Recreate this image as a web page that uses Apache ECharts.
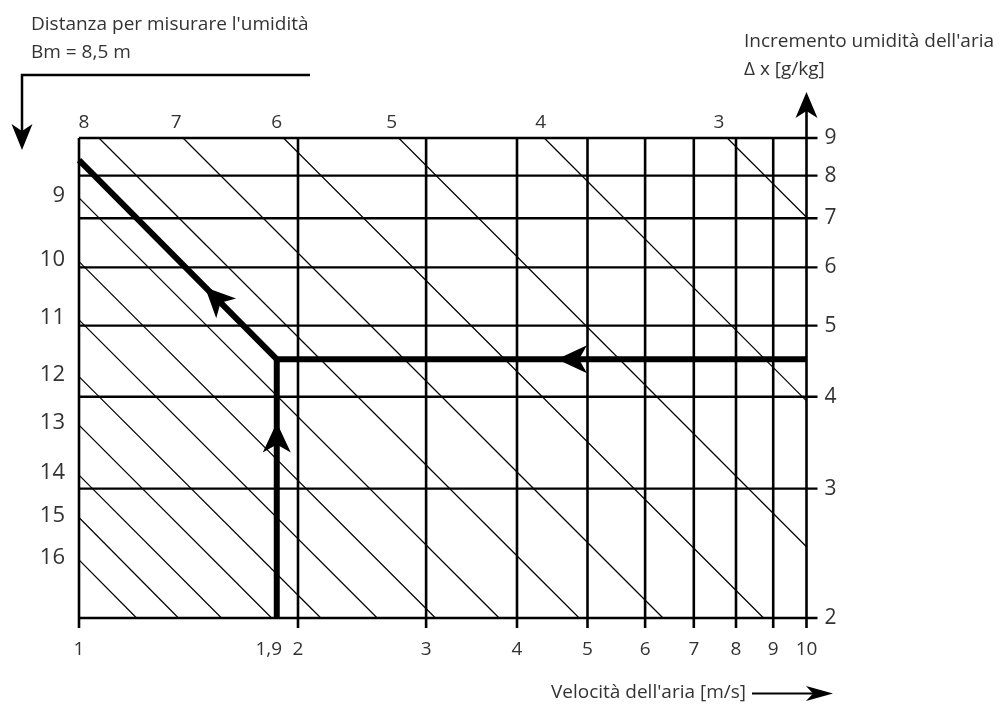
<!DOCTYPE html>
<html>
<head>
<meta charset="utf-8">
<title>Nomogramma umidità</title>
<script src="https://cdn.jsdelivr.net/npm/echarts@6/dist/echarts.min.js"></script>
<style>
  html, body { margin: 0; padding: 0; background: #fff; }
  #chart { width: 1007px; height: 715px; }
</style>
</head>
<body>
<div id="chart"></div>
<script>
// scale log-log: velocità (x) e incremento umidità (y)
const velocityTicks = [1, 2, 3, 4, 5, 6, 7, 8, 9, 10];
const humidityTicks = [2, 3, 4, 5, 6, 7, 8, 9];

// linee Bm (distanza), inizio e fine di ogni diagonale [v, Δx]
const bmValues = [3, 4, 5, 6, 7, 8, 9, 10, 11, 12, 13, 14, 15, 16];
const bmStart = [[7.78, 9], [4.36, 9], [2.75, 9], [1.91, 9], [1.39, 9], [1.065, 9],
  [1, 7.46], [1, 6.11], [1, 5.09], [1, 4.26], [1, 3.66], [1, 3.13], [1, 2.74], [1, 2.40]];
const bmEnd = [[10, 7.02], [10, 3.95], [10, 2.50], [8.73, 2], [6.35, 2], [4.87, 2],
  [3.78, 2], [3.09, 2], [2.57, 2], [2.15, 2], [1.84, 2], [1.57, 2], [1.37, 2], [1.20, 2]];
// dove stanno le etichette Bm del bordo superiore (scala velocità), per Bm 3..8
const bmTopAt = [7.58, 4.31, 2.69, 1.87, 1.36, 1.016];

// esempio: v = 1,9 m/s, Δx = 4,5 g/kg -> Bm = 8,5 m
const exampleVelocity = 1.87;
const exampleVelocityLabel = '1,9';
const exampleHumidity = 4.5;
const exampleBmEnd = [1, 8.40];
// punte delle frecce [v, Δx] e punto da cui arriva il tratto
const arrowTips = [[4.54, 4.5], [1.87, 3.69], [1.49, 5.64]];
const arrowFrom = [[10, 4.5], [1.87, 2], [1.87, 4.5]];

const FONT = '"Open Sans", "Noto Sans", sans-serif';
const TXT = '#333';
const font = size => size + 'px ' + FONT;

function textEl(text, x, y, size, align) {
  return {
    type: 'text',
    style: {
      text: text, x: x, y: y, font: font(size), fill: TXT,
      align: align, textAlign: align,
      verticalAlign: 'middle', textVerticalAlign: 'middle'
    }
  };
}

let myChart = echarts.init(document.getElementById('chart'));

let option = {
  animation: false,
  grid: { left: 79, right: 200.5, top: 138, bottom: 97, outerBoundsMode: 'none' },
  xAxis: { type: 'log', logBase: 10, min: 1, max: 10, show: false },
  yAxis: { type: 'log', logBase: 10, min: 2, max: 9, show: false },
  graphic: [
    { type: 'text', x: 31, y: 25, style: { text: "Distanza per misurare l'umidità", font: font(19), fill: TXT, verticalAlign: 'middle', textVerticalAlign: 'middle' } },
    { type: 'text', x: 31, y: 53, style: { text: 'Bm = 8,5 m', font: font(19), fill: TXT, verticalAlign: 'middle', textVerticalAlign: 'middle' } },
    { type: 'polyline', shape: { points: [[310, 75], [22, 75], [22, 132]] }, style: { stroke: '#000', lineWidth: 2.5, fill: null } },
    { type: 'polygon', shape: { points: [[22, 150], [11.5, 124], [22, 131], [32.5, 124]] }, style: { fill: '#000' } },
    { type: 'text', x: 744, y: 42, style: { text: "Incremento umidità dell'aria", font: font(19), fill: TXT, verticalAlign: 'middle', textVerticalAlign: 'middle' } },
    { type: 'text', x: 744, y: 70, style: { text: 'Δ x [g/kg]', font: font(19), fill: TXT, verticalAlign: 'middle', textVerticalAlign: 'middle' } },
    { type: 'text', x: 746, y: 693, style: { text: "Velocità dell'aria [m/s]", font: font(19), fill: TXT, align: 'right', textAlign: 'right', verticalAlign: 'middle', textVerticalAlign: 'middle' } },
    { type: 'line', shape: { x1: 752, y1: 693.5, x2: 814, y2: 693.5 }, style: { stroke: '#000', lineWidth: 2 } },
    { type: 'polygon', shape: { points: [[833, 693.5], [806, 686], [813, 693.5], [806, 701]] }, style: { fill: '#000' } }
  ],
  series: [
    // linee verticali della velocità, con tacca ed etichetta
    {
      type: 'custom',
      silent: true,
      clip: false,
      data: velocityTicks.map(v => [v, 2]),
      renderItem: (params, api) => {
        const v = api.value(0);
        const p0 = api.coord([v, 2]);
        const p1 = api.coord([v, 9]);
        return {
          type: 'group',
          children: [
            { type: 'line', shape: { x1: p0[0], y1: p0[1] + 10, x2: p1[0], y2: p1[1] }, style: { stroke: '#000', lineWidth: 2.6 } },
            textEl(String(v), p0[0], p0[1] + 32, 19, 'center')
          ]
        };
      }
    },
    // linee orizzontali dell'umidità
    {
      type: 'custom',
      silent: true,
      clip: false,
      data: humidityTicks.map(d => [10, d]),
      renderItem: (params, api) => {
        const d = api.value(1);
        const p0 = api.coord([1, d]);
        const p1 = api.coord([10, d]);
        return {
          type: 'group',
          children: [
            { type: 'line', shape: { x1: p0[0], y1: p0[1], x2: p1[0] + 11, y2: p1[1] }, style: { stroke: '#000', lineWidth: 2.4 } },
            textEl(String(d), p1[0] + 18, p1[1], 21, 'left')
          ]
        };
      }
    },
    // freccia in cima all'asse Δx
    {
      type: 'custom',
      silent: true,
      clip: false,
      data: [[10, 9]],
      renderItem: (params, api) => {
        const p = api.coord([api.value(0), api.value(1)]);
        return {
          type: 'group',
          children: [
            { type: 'line', shape: { x1: p[0], y1: p[1], x2: p[0], y2: p[1] - 30 }, style: { stroke: '#000', lineWidth: 2.6 } },
            { type: 'polygon', shape: { points: [[p[0], p[1] - 46], [p[0] - 11, p[1] - 20], [p[0], p[1] - 27], [p[0] + 11, p[1] - 20]] }, style: { fill: '#000' } }
          ]
        };
      }
    },
    // etichetta 1,9
    {
      type: 'custom',
      silent: true,
      clip: false,
      data: [[exampleVelocity, 2]],
      renderItem: (params, api) => {
        const p = api.coord([api.value(0), api.value(1)]);
        return textEl(exampleVelocityLabel, p[0] - 8, p[1] + 32, 19, 'center');
      }
    },
    // etichette Bm (bordo sinistro e bordo superiore)
    {
      type: 'custom',
      silent: true,
      clip: false,
      data: bmValues.map((b, i) => bmStart[i][1] < 9 ? [1, bmStart[i][1], b] : [bmTopAt[i], 9, b]),
      renderItem: (params, api) => {
        const p = api.coord([api.value(0), api.value(1)]);
        const b = String(api.value(2));
        if (api.value(1) < 9) {
          return textEl(b, p[0] - 14, p[1] - 2, 22, 'right');
        }
        return textEl(b, p[0], p[1] - 15, 19, 'center');
      }
    },
    // diagonali Bm
    ...bmValues.map((b, i) => ({
      type: 'line',
      name: 'Bm ' + b,
      data: [bmStart[i], bmEnd[i]],
      symbol: 'none',
      silent: true,
      lineStyle: { color: '#000', width: 1.2 }
    })),
    // percorso dell'esempio
    {
      type: 'line',
      data: [[10, exampleHumidity], [exampleVelocity, exampleHumidity], exampleBmEnd],
      symbol: 'none',
      silent: true,
      z: 5,
      lineStyle: { color: '#000', width: 6, join: 'miter', cap: 'butt' }
    },
    {
      type: 'line',
      data: [[exampleVelocity, 2], [exampleVelocity, exampleHumidity]],
      symbol: 'none',
      silent: true,
      z: 5,
      lineStyle: { color: '#000', width: 6, cap: 'butt' }
    },
    // punte di freccia: orientate lungo il tratto
    {
      type: 'custom',
      silent: true,
      clip: false,
      z: 6,
      data: arrowTips.map((t, i) => [t[0], t[1], arrowFrom[i][0], arrowFrom[i][1]]),
      renderItem: (params, api) => {
        const tip = api.coord([api.value(0), api.value(1)]);
        const from = api.coord([api.value(2), api.value(3)]);
        const len = Math.hypot(tip[0] - from[0], tip[1] - from[1]);
        const ux = (tip[0] - from[0]) / len, uy = (tip[1] - from[1]) / len;
        const nx = -uy, ny = ux;
        const L = 30, W = 14, N = 22;
        return {
          type: 'polygon',
          shape: {
            points: [
              tip,
              [tip[0] - ux * L + nx * W, tip[1] - uy * L + ny * W],
              [tip[0] - ux * N, tip[1] - uy * N],
              [tip[0] - ux * L - nx * W, tip[1] - uy * L - ny * W]
            ]
          },
          style: { fill: '#000' }
        };
      }
    }
  ]
};

myChart.setOption(option);
window.addEventListener('resize', () => {
  myChart.resize();
}, true);
</script>
</body>
</html>
